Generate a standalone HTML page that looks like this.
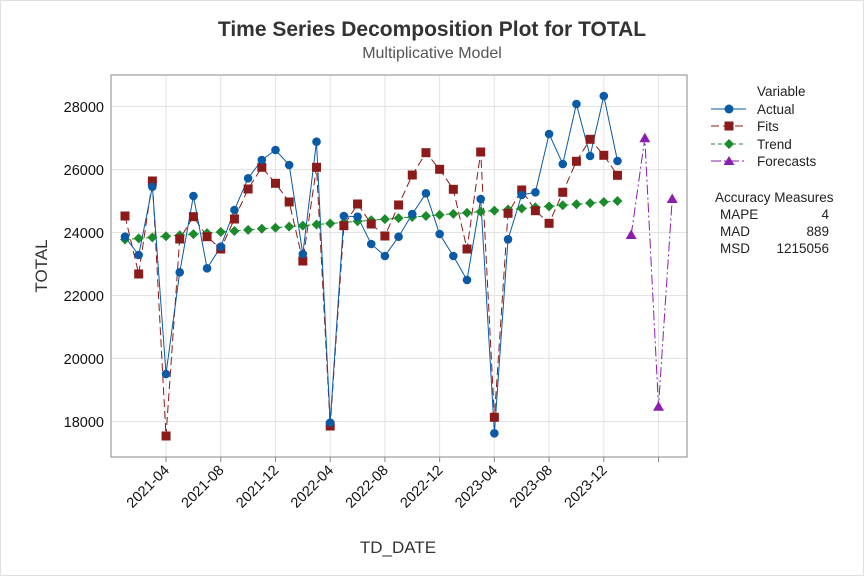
<!DOCTYPE html>
<html><head><meta charset="utf-8"><style>
body{margin:0;background:#fff;}
svg{display:block;font-family:"Liberation Sans",sans-serif;}
</style></head><body>
<svg id="s" width="864" height="576" xmlns="http://www.w3.org/2000/svg">
<rect x="0" y="0" width="864" height="576" fill="#fff"/>
<rect x="0.5" y="0.5" width="863" height="575" fill="none" stroke="#e0e0e0"/>
<text x="432" y="36" text-anchor="middle" font-size="21" font-weight="bold" fill="#333">Time Series Decomposition Plot for TOTAL</text>
<text x="432" y="58" text-anchor="middle" font-size="16" fill="#555">Multiplicative Model</text>
<g id="grid" stroke="#e3e3e3" stroke-width="1"></g>
<rect x="111" y="75" width="576" height="382" fill="none" stroke="#888"/>
<g font-size="14.5" fill="#111" text-anchor="end">
<text x="104" y="112">28000</text><text x="104" y="175">26000</text><text x="104" y="238">24000</text>
<text x="104" y="301">22000</text><text x="104" y="364">20000</text><text x="104" y="427">18000</text>
</g>
<g id="xl" font-size="14.5" fill="#111"></g>
<text x="47" y="266" transform="rotate(-90 47 266)" text-anchor="middle" font-size="17" fill="#333">TOTAL</text>
<text x="398" y="553" text-anchor="middle" font-size="17" fill="#333">TD_DATE</text>
<g id="series"></g>
<g font-size="13.5" fill="#222">
<text x="757" y="96">Variable</text>
<line x1="711" y1="109" x2="746" y2="109" stroke="#0a5aa5"/><circle cx="729" cy="109" r="4.5" fill="#0a5aa5"/><text x="757" y="114">Actual</text>
<line x1="711" y1="126" x2="746" y2="126" stroke="#8b1a1a" stroke-dasharray="8,4"/><rect x="724.5" y="121.5" width="9" height="9" fill="#8b1a1a"/><text x="757" y="131">Fits</text>
<line x1="711" y1="144" x2="746" y2="144" stroke="#1a8a2a" stroke-dasharray="4,3"/><path d="M729 139 L734 144 L729 149 L724 144Z" fill="#1a8a2a"/><text x="757" y="149">Trend</text>
<line x1="711" y1="161" x2="746" y2="161" stroke="#8a1fae" stroke-dasharray="10,3,2,3"/><path d="M729 156 L734.5 165 L723.5 165Z" fill="#8a1fae"/><text x="757" y="166">Forecasts</text>
<text x="715" y="202">Accuracy Measures</text>
<text x="720" y="219">MAPE</text><text x="829" y="219" text-anchor="end">4</text>
<text x="720" y="236">MAD</text><text x="829" y="236" text-anchor="end">889</text>
<text x="720" y="253">MSD</text><text x="829" y="253" text-anchor="end">1215056</text>
</g>
</svg>
<script>
var NS="http://www.w3.org/2000/svg";
function el(p,t,a){var e=document.createElementNS(NS,t);for(var k in a)e.setAttribute(k,a[k]);p.appendChild(e);return e;}
var g=document.getElementById('grid');
[106.5,169.5,232.5,295.5,358.5,421.5].forEach(function(y){el(g,'line',{x1:111,x2:687,y1:y,y2:y});});
var X=function(i){return 125+i*13.68;};
var xl=document.getElementById('xl');
var labs=['2021-04','2021-08','2021-12','2022-04','2022-08','2022-12','2023-04','2023-08','2023-12',''];
for(var k=0;k<10;k++){var x=X(3+4*k);el(g,'line',{x1:x,x2:x,y1:75,y2:457});el(g,'line',{x1:x,x2:x,y1:457,y2:462,stroke:'#888'});
 if(labs[k]){var t=el(xl,'text',{x:x+4,y:471,'text-anchor':'end',transform:'rotate(-45 '+(x+4)+' 471)'});t.textContent=labs[k];}}
var A=[236.7,255,186.7,374,272.3,196,268.3,246.7,210,178.3,160,150,165,254,141.7,422.7,216,216.7,244,256,236.7,214,193.3,234,256,280,199,433.3,239.3,195,192.3,134,164,104,156,96,161];
var F=[216,274,181,436,239,216.7,236.7,249,219,189,167.3,183.3,202,261,167.3,426,225.7,204,224,236,205,175,152.7,169.3,189.3,249,152,417.3,213.3,190,210.7,223.3,192.3,161.3,139.3,155.3,175.3];
var T=[];for(var i=0;i<37;i++)T.push(239.5-i*1.07);
var FC=[235,138.3,406.7,199];
var s=document.getElementById('series');
function pts(arr,off){return arr.map(function(y,i){return X(i+off).toFixed(1)+','+y;}).join(' ');}
el(s,'polyline',{points:pts(T,0),fill:'none',stroke:'#1a8a2a','stroke-dasharray':'4,3'});
el(s,'polyline',{points:pts(F,0),fill:'none',stroke:'#8b1a1a','stroke-dasharray':'8,4'});
el(s,'polyline',{points:pts(A,0),fill:'none',stroke:'#0a5aa5'});
el(s,'polyline',{points:pts(FC,37),fill:'none',stroke:'#8a1fae','stroke-dasharray':'10,3,2,3'});
T.forEach(function(y,i){var x=X(i);el(s,'path',{d:'M'+x+' '+(y-5)+' L'+(x+5)+' '+y+' L'+x+' '+(y+5)+' L'+(x-5)+' '+y+'Z',fill:'#1a8a2a'});});
F.forEach(function(y,i){el(s,'rect',{x:X(i)-4.5,y:y-4.5,width:9,height:9,fill:'#8b1a1a'});});
A.forEach(function(y,i){el(s,'circle',{cx:X(i),cy:y,r:4.3,fill:'#0a5aa5'});});
FC.forEach(function(y,i){var x=X(i+37);el(s,'path',{d:'M'+x+' '+(y-5.5)+' L'+(x+5.5)+' '+(y+4)+' L'+(x-5.5)+' '+(y+4)+'Z',fill:'#8a1fae'});});
</script>
</body></html>
